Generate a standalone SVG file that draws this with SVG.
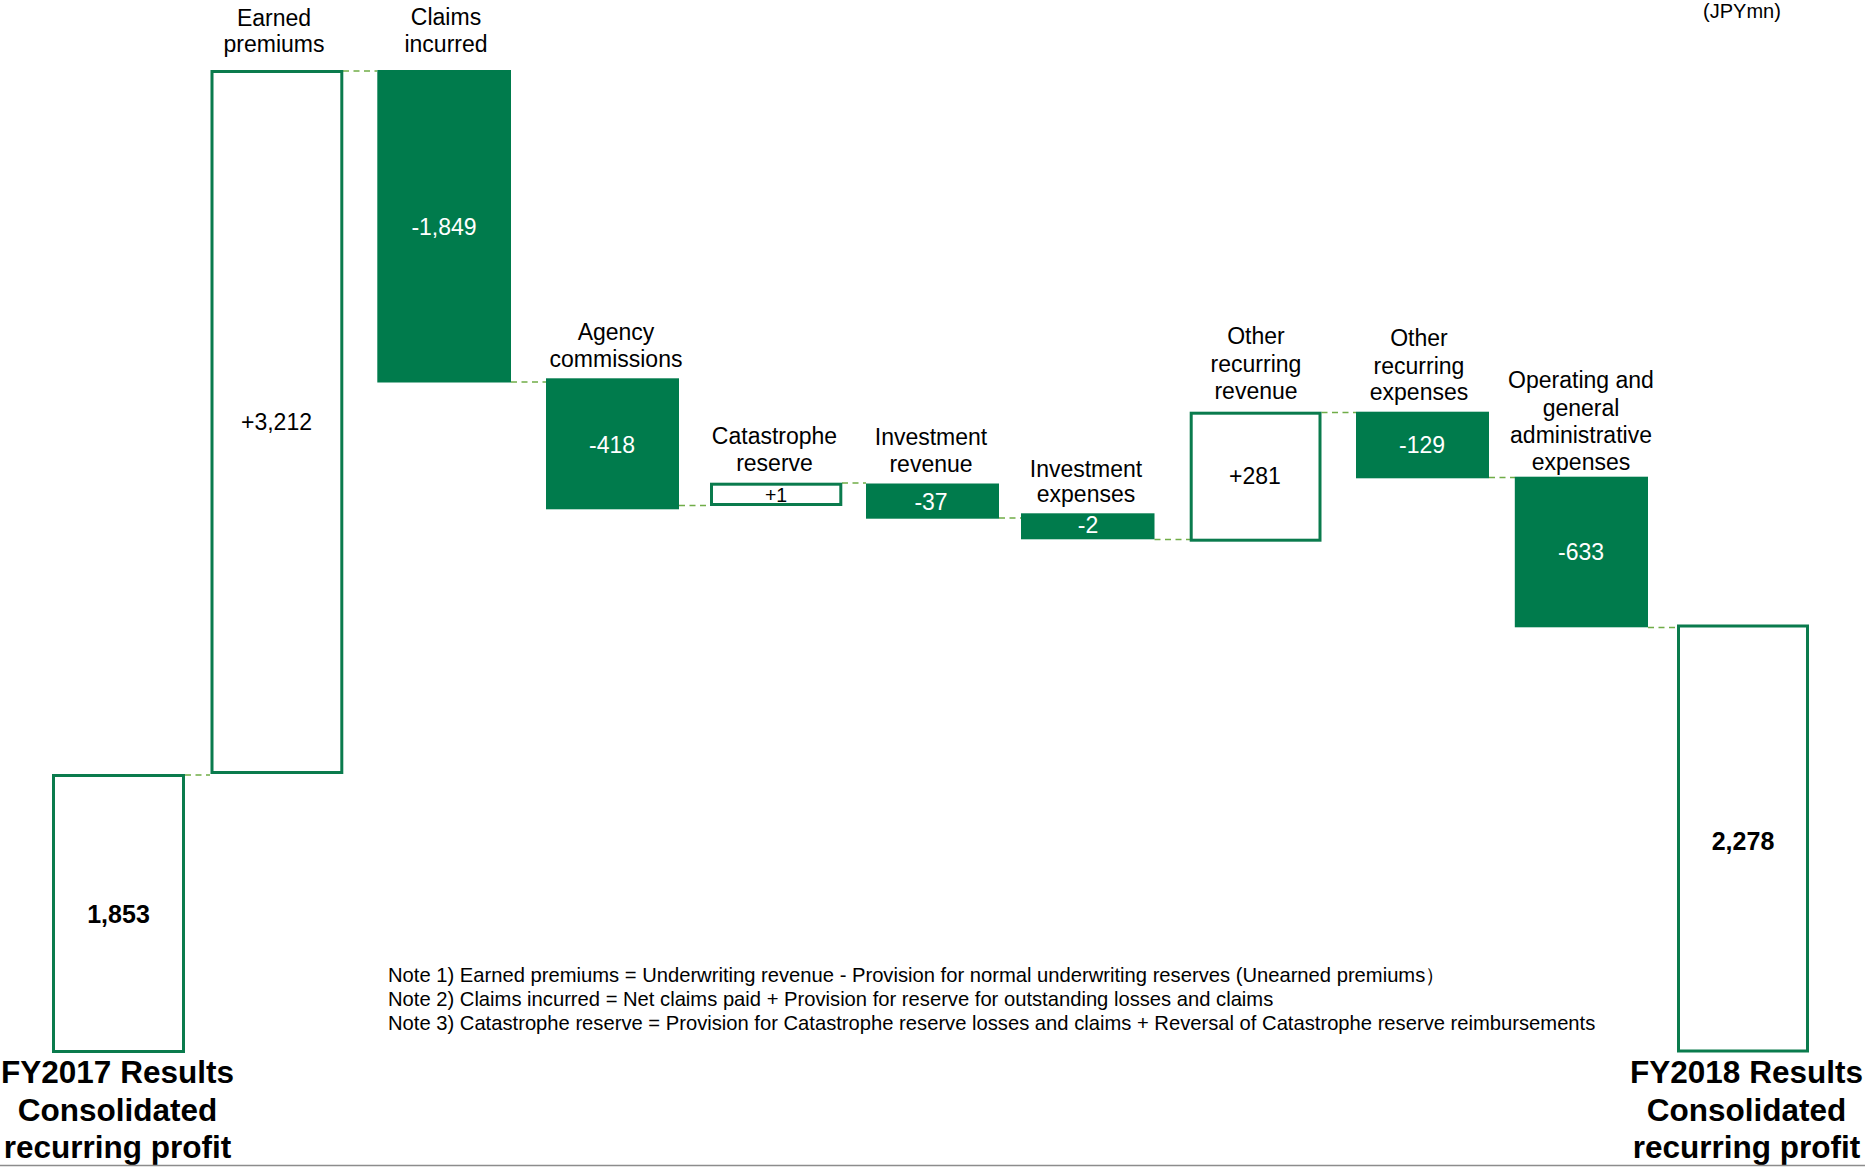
<svg xmlns="http://www.w3.org/2000/svg" width="1865" height="1167" viewBox="0 0 1865 1167">
<style>
text { font-family: "Liberation Sans", Arial, sans-serif; fill: #000; }
.lbl { font-size: 23px; text-anchor: middle; }
.val { font-size: 23px; text-anchor: middle; }
.wv { fill: #fff; }
.tot { font-size: 25px; font-weight: bold; text-anchor: middle; }
.ttl { font-size: 31.5px; font-weight: bold; text-anchor: middle; }
.note { font-size: 20.2px; }
.fill { fill: #007B4C; }
.out { fill: #fff; stroke: #0A7B4D; stroke-width: 3; }
.dash { stroke: #70AD47; stroke-width: 1.6; stroke-dasharray: 6 4.5; fill: none; }
</style>
<rect width="1865" height="1167" fill="#fff"/>
<g id="connectors">
<line class="dash" x1="185" y1="775" x2="210" y2="775"/>
<line class="dash" x1="343" y1="71" x2="377" y2="71"/>
<line class="dash" x1="511" y1="382" x2="546" y2="382"/>
<line class="dash" x1="679" y1="505.5" x2="710" y2="505.5"/>
<line class="dash" x1="842" y1="483" x2="866" y2="483"/>
<line class="dash" x1="999" y1="518" x2="1021" y2="518"/>
<line class="dash" x1="1154.5" y1="539.5" x2="1190" y2="539.5"/>
<line class="dash" x1="1321.5" y1="412.5" x2="1356" y2="412.5"/>
<line class="dash" x1="1489" y1="477.5" x2="1515" y2="477.5"/>
<line class="dash" x1="1648" y1="627.5" x2="1677" y2="627.5"/>
</g>
<g id="fy2017">
<rect class="out" x="53.5" y="775.5" width="130" height="276"/>
<text class="tot" x="118.5" y="923">1,853</text>
<text class="ttl" x="117.5" y="1083">FY2017 Results</text>
<text class="ttl" x="117.5" y="1121">Consolidated</text>
<text class="ttl" x="117.5" y="1158">recurring profit</text>
</g>
<g id="earned">
<rect class="out" x="212" y="71.5" width="129.8" height="701"/>
<text class="lbl" x="274" y="26">Earned</text>
<text class="lbl" x="274" y="52">premiums</text>
<text class="val" x="276.5" y="430">+3,212</text>
</g>
<g id="claims">
<rect class="fill" x="377.3" y="70" width="133.7" height="312.5"/>
<text class="lbl" x="446" y="24.5">Claims</text>
<text class="lbl" x="446" y="51.5">incurred</text>
<text class="val wv" x="444" y="235">-1,849</text>
</g>
<g id="agency">
<rect class="fill" x="546" y="378.3" width="133" height="131"/>
<text class="lbl" x="616" y="340">Agency</text>
<text class="lbl" x="616" y="367">commissions</text>
<text class="val wv" x="612" y="453.3">-418</text>
</g>
<g id="catastrophe">
<rect class="out" x="711.5" y="484.2" width="129.3" height="20.3"/>
<text class="lbl" x="774.5" y="443.5">Catastrophe</text>
<text class="lbl" x="774.5" y="470.5">reserve</text>
<text class="val" style="font-size:19.5px" x="776" y="501.5">+1</text>
</g>
<g id="invrev">
<rect class="fill" x="866" y="483.5" width="133" height="35.2"/>
<text class="lbl" x="931" y="445">Investment</text>
<text class="lbl" x="931" y="472">revenue</text>
<text class="val wv" x="931" y="510">-37</text>
</g>
<g id="invexp">
<rect class="fill" x="1021" y="513.3" width="133.5" height="26"/>
<text class="lbl" x="1086" y="476.5">Investment</text>
<text class="lbl" x="1086" y="502">expenses</text>
<text class="val wv" x="1088" y="533.3">-2</text>
</g>
<g id="otherrev">
<rect class="out" x="1191.2" y="413.2" width="128.8" height="127"/>
<text class="lbl" x="1256" y="344">Other</text>
<text class="lbl" x="1256" y="371.5">recurring</text>
<text class="lbl" x="1256" y="399">revenue</text>
<text class="val" x="1255" y="484.3">+281</text>
</g>
<g id="otherexp">
<rect class="fill" x="1356" y="411.7" width="133" height="66.6"/>
<text class="lbl" x="1419" y="346">Other</text>
<text class="lbl" x="1419" y="373.5">recurring</text>
<text class="lbl" x="1419" y="400">expenses</text>
<text class="val wv" x="1422" y="453.3">-129</text>
</g>
<g id="operating">
<rect class="fill" x="1514.8" y="476.7" width="133.2" height="150.6"/>
<text class="lbl" x="1581" y="388">Operating and</text>
<text class="lbl" x="1581" y="415.5">general</text>
<text class="lbl" x="1581" y="443">administrative</text>
<text class="lbl" x="1581" y="470">expenses</text>
<text class="val wv" x="1581" y="560">-633</text>
</g>
<g id="fy2018">
<rect class="out" x="1678.5" y="626" width="129" height="425"/>
<text class="tot" x="1743" y="849.5">2,278</text>
<text class="ttl" x="1746.5" y="1083">FY2018 Results</text>
<text class="ttl" x="1746.5" y="1121">Consolidated</text>
<text class="ttl" x="1746.5" y="1158">recurring profit</text>
</g>
<g id="notes">
<text class="note" x="388" y="982">Note 1) Earned premiums = Underwriting revenue - Provision for normal underwriting reserves (Unearned premiums）</text>
<text class="note" x="388" y="1006">Note 2) Claims incurred = Net claims paid + Provision for reserve for outstanding losses and claims</text>
<text class="note" x="388" y="1030">Note 3) Catastrophe reserve = Provision for Catastrophe reserve losses and claims + Reversal of Catastrophe reserve reimbursements</text>
</g>
<text id="unit" x="1742" y="17.5" style="font-size:20px;text-anchor:middle">(JPYmn)</text>
<line x1="0" y1="1165.5" x2="1865" y2="1165.5" stroke="#8c8c8c" stroke-width="1.5"/>
</svg>
